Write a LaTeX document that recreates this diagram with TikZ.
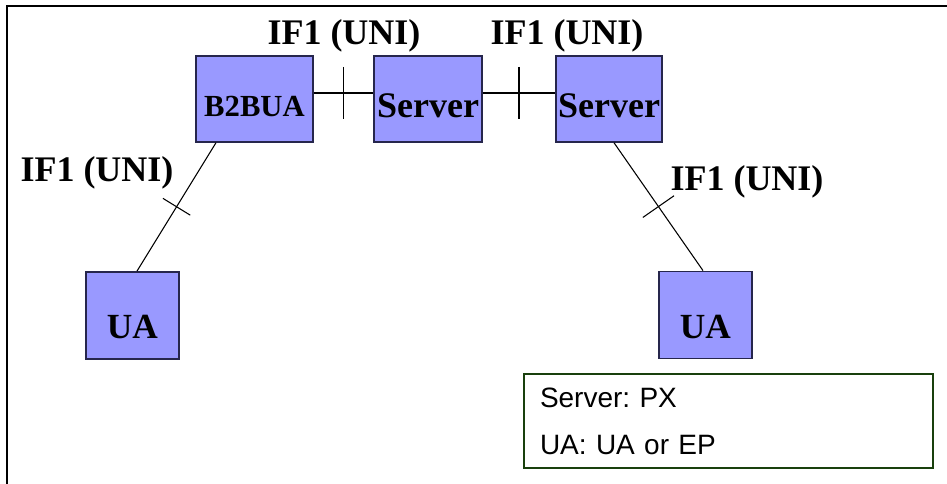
\documentclass[tikz,border=0pt]{standalone}
\usepackage{fontspec}
\setmainfont{Liberation Serif}
\newfontfamily\legendfont{Liberation Sans}
\usepackage{tikz}
\usetikzlibrary{calc,positioning,decorations.markings}
\frenchspacing

\begin{document}
\begin{tikzpicture}[x=0.75pt,y=-0.75pt,
  box/.style={draw=cbd,fill=cfb,line width=1.1pt,inner sep=0pt,text depth=0pt,
    minimum height=64.5pt,font=\bfseries\fontsize{27}{30}\selectfont},
  link/.style={draw=black,line width=0.8pt},
  ticked/.style={postaction={decorate,decoration={markings,
    mark=at position 0.5 with {\draw[link] (0,-#1) -- (0,#1);}}}},
  iflabel/.style={anchor=base,font=\bfseries\fontsize{27}{30}\selectfont},
  keybox/.style={draw=ckey,line width=1.5pt,anchor=north west,align=left,
    text width=282.75pt,inner xsep=12pt,inner ysep=10.1pt,
    font=\legendfont\fontsize{21}{35.25}\selectfont}]
%
\useasboundingbox (0,0) rectangle (947,484);
%
\definecolor{cfb}{rgb}{0.6,0.6,1.0}
\definecolor{cbd}{rgb}{0.15,0.15,0.3}
\definecolor{ckey}{rgb}{0.1,0.25,0.05}
%
\draw[line width=2.2pt] (7,484) |- (947,6);
%
\node[box,minimum width=87.75pt,text height=25.7pt,font=\bfseries\fontsize{23}{26}\selectfont] (b2bua) at (254.5,99) {B2BUA};
\node[box,minimum width=81pt,text height=27.7pt] (srvA) at (428,99) {Server};
\node[box,minimum width=79.5pt,text height=27.7pt] (srvB) at (609,99) {Server};
\node[box,minimum width=70pt,minimum height=65.5pt,text height=34.8pt,font=\bfseries\fontsize{26.5}{30}\selectfont] (uaL) at (132.5,315.5) {UA};
\node[box,minimum width=70pt,minimum height=65.5pt,text height=34.8pt,font=\bfseries\fontsize{26.5}{30}\selectfont] (uaR) at (705.5,315) {UA};
%
\draw[link,ticked=26] ($(b2bua.east)+(0,-6)$) -- ($(srvA.west)+(0,-6)$);
\draw[link,ticked=26] ($(srvA.east)+(0,-6)$) -- ($(srvB.west)+(0,-6)$);
\draw[link,ticked=16] ($(b2bua.south)+(-38.5,0)$) -- ($(uaL.north)+(4.5,0)$);
\draw[link,ticked=19] ($(srvB.south)+(5,0)$) -- ($(uaR.north)+(-2.5,0)$);
%
\node[iflabel] (ifA) at (344,45) {IF1 (UNI)};
\node[iflabel] (ifB) at (567,45) {IF1 (UNI)};
\node[iflabel] (ifC) at (97,182) {IF1 (UNI)};
\node[iflabel] (ifD) at (747,191) {IF1 (UNI)};
%
\node[keybox] (key) at (523,373) {Server: PX\\UA: UA or EP};
%
\end{tikzpicture}
\end{document}
